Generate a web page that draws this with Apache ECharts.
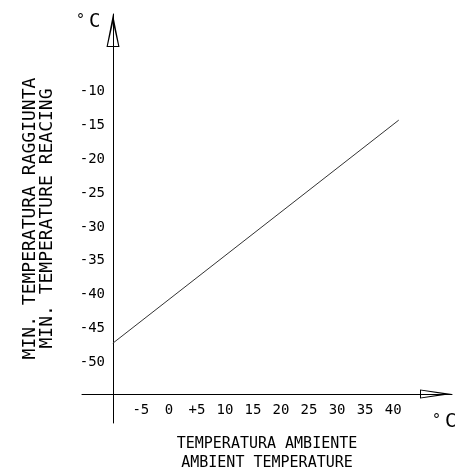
<!DOCTYPE html>
<html>
<head>
<meta charset="utf-8">
<script src="https://cdn.jsdelivr.net/npm/echarts@6/dist/echarts.min.js"></script>
<style>
  html, body { margin: 0; padding: 0; background: #fff; }
  #main { width: 464px; height: 472px; }
</style>
</head>
<body>
<div id="main"></div>
<script>
// tick labels
var xTicks = [-5, 0, 5, 10, 15, 20, 25, 30, 35, 40];
var yTicks = [-50, -45, -40, -35, -30, -25, -20, -15, -10];
// line ends (ambient temp -> min temp reached)
var ambientTemp = [-10, 41];
var minTemp = [-47.2, -14.2];

var font = '"DejaVu Sans Mono", monospace';

// open arrow heads (outer triangle minus inner one), pointing up
var arrowY = 'path://M6.5 0 L13 33 L0 33 Z M6.5 9 L1.3 32 L11.7 32 Z';
var arrowX = 'path://M4.5 0 L9 32 L0 32 Z M4.5 9 L1.1 31 L7.9 31 Z';

var lineData = [];
for (var i = 0; i < ambientTemp.length; i++) {
	lineData.push([ambientTemp[i], minTemp[i]]);
}

// unit marks "° C"
function unitText(x, y) {
	return [
		{ type: 'text', left: x, top: y + 1, style: { text: '°', fill: '#000', font: '15px ' + font } },
		{ type: 'text', left: x + 13, top: y, style: { text: 'C', fill: '#000', font: '19px ' + font } }
	];
}

var chart = echarts.init(document.getElementById('main'));

var option = {
	animation: false,
	backgroundColor: '#fff',
	grid: {
		left: 82,
		right: 12,
		top: 14,
		bottom: 49,
		containLabel: false,
		outerBoundsMode: 'none'
	},
	xAxis: {
		type: 'value',
		min: -15.5,
		max: 50.5,
		offset: -29,
		axisLine: {
			onZero: false,
			symbol: ['none', arrowX],
			symbolSize: [9, 32],
			symbolOffset: [0, -16],
			lineStyle: { color: '#000', width: 1 }
		},
		axisTick: { show: false },
		splitLine: { show: false },
		axisLabel: {
			customValues: xTicks,
			margin: 9,
			color: '#000',
			fontFamily: font,
			fontSize: 14,
			formatter: function (v) {
				return v === 5 ? '+5' : String(v);
			}
		},
		name: 'TEMPERATURA AMBIENTE\nAMBIENT TEMPERATURE',
		nameLocation: 'middle',
		nameGap: 41,
		nameTextStyle: {
			color: '#000',
			fontFamily: font,
			fontSize: 15,
			lineHeight: 19
		}
	},
	yAxis: {
		type: 'value',
		min: -59,
		max: 1.5,
		offset: -31,
		axisLine: {
			onZero: false,
			symbol: ['none', arrowY],
			symbolSize: [13, 33],
			symbolOffset: [0, -16.5],
			lineStyle: { color: '#000', width: 1 }
		},
		axisTick: { show: false },
		splitLine: { show: false },
		axisLabel: {
			customValues: yTicks,
			margin: 8,
			color: '#000',
			fontFamily: font,
			fontSize: 14
		},
		name: 'MIN. TEMPERATURA RAGGIUNTA\nMIN. TEMPERATURE REACING',
		nameLocation: 'middle',
		nameGap: 57,
		nameTextStyle: {
			color: '#000',
			fontFamily: font,
			fontSize: 18,
			lineHeight: 17
		}
	},
	graphic: unitText(76, 13).concat(unitText(432, 413)),
	series: [
		{
			type: 'line',
			data: lineData,
			symbol: 'none',
			lineStyle: { color: '#333', width: 1 }
		}
	]
};

chart.setOption(option);
</script>
</body>
</html>
